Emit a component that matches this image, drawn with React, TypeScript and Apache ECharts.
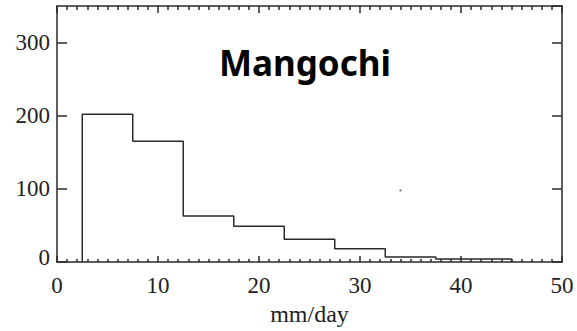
import React, { useEffect, useRef } from "react";
import * as echarts from "echarts";

const binEdges = [2.5, 7.5, 12.5, 17.5, 22.5, 27.5, 32.5, 37.5, 42.5, 45];
const binCounts = [202, 165, 63, 49, 31, 18, 7, 4, 4];
const strayPoint = [[34, 98]];
const xTicks = [0, 10, 20, 30, 40, 50];
const yTicks = [0, 100, 200, 300];
const titleText = "Mangochi";
const xName = "mm/day";

const AXIS_COLOR = "#2a2a2a";
const serif = "'Liberation Serif', 'Times New Roman', serif";

export default function App() {
  const ref = useRef<HTMLDivElement>(null);
  useEffect(() => {
    if (!ref.current) return;
    const chart = echarts.init(ref.current, undefined, { renderer: "svg" });
    const outline: number[][] = [[binEdges[0], 0]];
    binCounts.forEach((c, i) => {
      outline.push([binEdges[i], c]);
      outline.push([binEdges[i + 1], c]);
    });
    outline.push([binEdges[binEdges.length - 1], 0]);

    const xMin = xTicks[0];
    const xMax = xTicks[xTicks.length - 1];
    const xInt = xTicks[1] - xTicks[0];
    const yInt = yTicks[1] - yTicks[0];

    const baseX = {
      type: "value" as const,
      min: xMin,
      max: xMax,
      interval: xInt,
      splitLine: { show: false },
      axisLine: { show: true, onZero: false, lineStyle: { color: AXIS_COLOR, width: 1.5 } },
    };
    const baseY = {
      type: "value" as const,
      min: 0,
      max: 350,
      interval: yInt,
      splitLine: { show: false },
      axisLine: { show: true, onZero: false, lineStyle: { color: AXIS_COLOR, width: 1.5 } },
      axisTick: { show: true, inside: true, length: 10, lineStyle: { color: AXIS_COLOR, width: 1.5 } },
    };

    chart.setOption({
      animation: false,
      grid: { left: 57, right: 15, top: 6, bottom: 69, containLabel: false },
      xAxis: [
        {
          ...baseX,
          position: "bottom",
          name: xName,
          nameLocation: "middle",
          nameGap: 37,
          nameTextStyle: { fontFamily: serif, fontSize: 24, color: "#222" },
          axisTick: { show: true, inside: true, length: 6, lineStyle: { color: AXIS_COLOR, width: 1.5 } },
          minorTick: { show: true, splitNumber: 10, length: 3, lineStyle: { color: AXIS_COLOR, width: 1.5 } },
          axisLabel: { show: true, margin: 12, fontFamily: serif, fontSize: 23, color: "#222" },
        },
        {
          ...baseX,
          position: "top",
          axisTick: { show: true, inside: true, length: 7, lineStyle: { color: AXIS_COLOR, width: 1.5 } },
          minorTick: { show: true, splitNumber: 10, length: 4, lineStyle: { color: AXIS_COLOR, width: 1.5 } },
          axisLabel: { show: false },
        },
      ],
      yAxis: [
        {
          ...baseY,
          position: "left",
          axisLabel: {
            show: true,
            margin: 7,
            showMaxLabel: false,
            fontFamily: serif,
            fontSize: 23,
            color: "#222",
            formatter: (v: number) => (v === 0 ? "{z|0}" : String(v)),
            rich: { z: { fontFamily: serif, fontSize: 23, color: "#222", padding: [0, 0, 10, 0] } },
          },
        },
        {
          ...baseY,
          position: "right",
          axisLabel: { show: false },
        },
      ],
      graphic: [
        {
          type: "text",
          left: 219,
          top: 45,
          style: {
            text: titleText,
            fontFamily: "'Noto Sans', sans-serif",
            fontWeight: "bold",
            fontSize: 35,
            fill: "#000",
          },
        },
      ],
      series: [
        {
          type: "line",
          data: outline,
          symbol: "none",
          lineStyle: { color: "#2a2a2a", width: 1.5 },
          xAxisIndex: 0,
          yAxisIndex: 0,
        },
        {
          type: "scatter",
          data: strayPoint,
          symbolSize: 2,
          itemStyle: { color: "#444" },
          xAxisIndex: 0,
          yAxisIndex: 0,
        },
      ],
    });
    return () => chart.dispose();
  }, []);
  return (
    <div
      ref={ref}
      style={{ position: "absolute", left: 0, top: 0, width: 577, height: 331, background: "#fff" }}
    />
  );
}
